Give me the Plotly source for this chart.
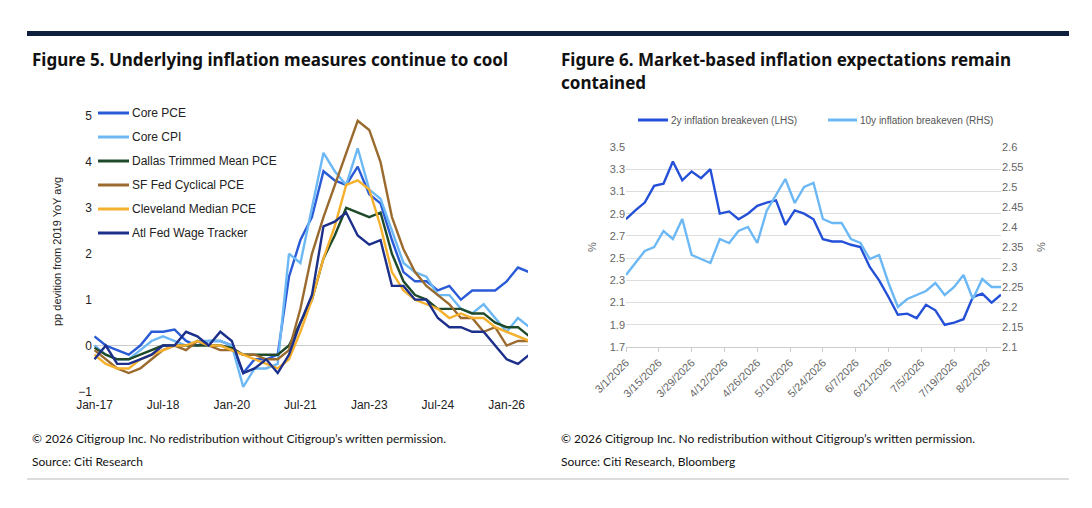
import pandas as pd
import plotly.graph_objects as go

# ---- Figure 5 data (quarterly readings) ----
dates5 = pd.date_range("2017-01-01", periods=39, freq="3MS")
core_pce = [0.2,0.0,-0.1,-0.2,0.0,0.3,0.3,0.35,0.1,0.0,0.1,0.1,0.0,-0.6,-0.3,-0.3,-0.2,1.5,2.3,2.8,3.8,3.6,3.5,3.9,3.3,3.1,2.3,1.6,1.4,1.4,1.2,1.3,1.0,1.2,1.2,1.2,1.4,1.7,1.6]
core_cpi = [0.0,-0.2,-0.3,-0.3,-0.1,0.1,0.2,0.1,0.0,0.1,0.1,0.1,0.0,-0.9,-0.5,-0.5,-0.4,2.0,1.8,3.0,4.2,3.8,3.5,4.3,3.4,3.2,2.5,1.8,1.6,1.5,1.1,1.1,0.8,0.7,0.9,0.6,0.3,0.6,0.4]
dallas = [-0.05,-0.2,-0.3,-0.3,-0.2,-0.1,0.0,0.0,0.0,0.0,0.0,0.0,-0.05,-0.2,-0.2,-0.2,-0.2,0.0,0.5,1.0,1.9,2.4,3.0,2.9,2.8,2.9,2.0,1.4,1.1,1.0,0.8,0.8,0.8,0.7,0.7,0.5,0.4,0.4,0.2]
sf_fed = [-0.1,-0.3,-0.5,-0.6,-0.5,-0.3,-0.1,0.0,-0.1,0.1,0.0,-0.1,-0.1,-0.2,-0.2,-0.3,-0.3,-0.1,0.8,2.0,2.8,3.5,4.2,4.9,4.7,4.0,2.8,2.1,1.6,1.3,1.1,0.9,0.6,0.6,0.3,0.4,0.0,0.1,0.1]
cleveland = [-0.2,-0.4,-0.5,-0.5,-0.3,-0.2,-0.1,0.0,0.0,0.1,0.0,0.0,-0.1,-0.2,-0.3,-0.4,-0.5,-0.3,0.3,1.0,1.9,2.6,3.5,3.6,3.4,2.6,1.6,1.2,1.0,0.9,0.8,0.6,0.7,0.6,0.6,0.4,0.3,0.2,0.1]
atl_wage = [-0.3,0.0,-0.4,-0.4,-0.3,-0.2,0.0,0.0,0.3,0.2,0.0,0.3,0.1,-0.6,-0.5,-0.3,-0.6,-0.2,0.5,1.1,2.6,2.7,2.9,2.4,2.2,2.3,1.3,1.3,1.0,1.0,0.6,0.4,0.4,0.3,0.3,0.0,-0.3,-0.4,-0.2]
ticks5 = ["2017-01-01","2018-07-01","2020-01-01","2021-07-01","2023-01-01","2024-07-01","2026-01-01"]
ticklabels5 = ["Jan-17","Jul-18","Jan-20","Jul-21","Jan-23","Jul-24","Jan-26"]

# ---- Figure 6 data (every 4 days) ----
dates6 = pd.date_range("2026-03-01", periods=41, freq="4D")
be2y = [2.85,2.93,3.0,3.15,3.17,3.37,3.2,3.28,3.22,3.3,2.9,2.92,2.85,2.9,2.97,3.0,3.02,2.8,2.93,2.9,2.85,2.67,2.65,2.65,2.62,2.6,2.42,2.3,2.15,1.99,2.0,1.96,2.08,2.03,1.9,1.92,1.95,2.15,2.18,2.1,2.17]
be10y = [2.28,2.31,2.34,2.35,2.39,2.37,2.42,2.33,2.32,2.31,2.37,2.36,2.39,2.4,2.36,2.44,2.48,2.52,2.46,2.5,2.51,2.42,2.41,2.41,2.37,2.36,2.32,2.33,2.26,2.2,2.22,2.23,2.24,2.26,2.23,2.25,2.28,2.22,2.27,2.25,2.25]

W, H = 1092, 508
DX, DY = 9, 9
def px(x): return (x - DX) / W
def py(y): return 1 - (y - DY) / H

fig = go.Figure()
series5 = [("Core PCE", core_pce, "#2a5bd7"), ("Core CPI", core_cpi, "#6cb8f5"),
           ("Dallas Trimmed Mean PCE", dallas, "#1f4a2a"), ("SF Fed Cyclical PCE", sf_fed, "#9a6a2e"),
           ("Cleveland Median PCE", cleveland, "#f5b02e"), ("Atl Fed Wage Tracker", atl_wage, "#1c2f8a")]
for name, vals, col in series5:
    fig.add_trace(go.Scatter(x=dates5, y=vals, name=name, mode="lines", line=dict(color=col, width=2.4),
                             xaxis="x", yaxis="y", showlegend=False))
series6 = [("2y inflation breakeven (LHS)", be2y, "#2450d8", "y2"),
           ("10y inflation breakeven (RHS)", be10y, "#6cb8f5", "y3")]
for name, vals, col, ya in series6:
    fig.add_trace(go.Scatter(x=dates6, y=vals, name=name, mode="lines", line=dict(color=col, width=2.4),
                             xaxis="x2", yaxis=ya, showlegend=False))

tf = dict(family="Liberation Sans, Arial", size=11, color="#333")
d6 = pd.date_range("2026-03-01", "2026-08-02", freq="14D")
shapes = [
    dict(type="rect", xref="paper", yref="paper", x0=px(28), x1=px(1070), y0=py(37), y1=py(32),
         fillcolor="#0f1f3d", line_width=0),
    dict(type="line", xref="paper", yref="paper", x0=px(28), x1=px(1070), y0=py(480), y1=py(480),
         line=dict(color="#bbb", width=1)),
]
annotations = []
for i, (name, _, col) in enumerate(series5):
    y = 114 + 24 * i
    shapes.append(dict(type="line", xref="paper", yref="paper", x0=px(99), x1=px(130), y0=py(y), y1=py(y),
                       line=dict(color=col, width=3)))
    annotations.append(dict(x=px(131), y=py(y), text=name, font=dict(size=12, color="#222",
                            family="Liberation Sans, Arial")))
for (name, _, col, _), (x0, x1) in zip(series6, [(639, 669), (829, 858)]):
    shapes.append(dict(type="line", xref="paper", yref="paper", x0=px(x0), x1=px(x1), y0=py(121), y1=py(121),
                       line=dict(color=col, width=3)))
    annotations.append(dict(x=px(x1 + 1), y=py(121), text=name, font=dict(size=10, color="#555",
                            family="Liberation Sans, Arial")))

fig.update_layout(
    width=W, height=H, margin=dict(l=0, r=0, t=0, b=0, autoexpand=False),
    paper_bgcolor="white", plot_bgcolor="white", font=tf, showlegend=False,
    xaxis=dict(domain=[px(94), px(529)], type="date", range=["2016-12-20", "2026-06-20"], automargin=False,
               tickvals=ticks5, ticktext=ticklabels5, showgrid=False, showline=False, ticks="",
               tickfont=dict(size=12, color="#222")),
    yaxis=dict(domain=[py(397), py(108)], range=[-1.1, 5.2], dtick=1, showgrid=False, zeroline=True,
               zerolinecolor="#ccc", zerolinewidth=1, tickfont=dict(size=12, color="#222"), automargin=False,
               title=dict(text="pp devition from 2019 YoY avg", font=dict(size=11, color="#222"), standoff=14)),
    xaxis2=dict(domain=[px(627), px(1002)], type="date", range=["2026-03-01", "2026-08-08"], anchor="y2",
                tickvals=d6, ticktext=[f"{d.month}/{d.day}/{d.year}" for d in d6], automargin=False,
                tickangle=-45, showgrid=False, showline=True, linecolor="#ccc", ticks="outside",
                tickcolor="#ccc", ticklen=4, tickfont=dict(size=11, color="#666")),
    yaxis2=dict(domain=[py(348), py(148)], range=[1.7, 3.5], dtick=0.2, tick0=1.7, anchor="x2",
                showgrid=True, gridcolor="#ddd", zeroline=False, tickfont=dict(size=11, color="#666"),
                automargin=False, title=dict(text="%", font=dict(size=11, color="#666"), standoff=10)),
    yaxis3=dict(range=[2.1, 2.6], dtick=0.05, tick0=2.1, overlaying="y2", side="right", anchor="x2",
                showgrid=False, zeroline=False, tickfont=dict(size=11, color="#666"), automargin=False,
                title=dict(text="%", font=dict(size=11, color="#666"), standoff=14)),
)
hf = dict(family="Noto Sans, Lato", size=17, color="#111")
ff = dict(family="Lato, Liberation Sans", size=12, color="#111")
txt = [
    (31, 60, "<b>Figure 5. Underlying inflation measures continue to cool</b>", hf),
    (560, 60, "<b>Figure 6. Market-based inflation expectations remain</b>", hf),
    (560, 84, "<b>contained</b>", hf),
    (31, 439, "© 2026 Citigroup Inc. No redistribution without Citigroup’s written permission.", ff),
    (31, 462, "Source: Citi Research", ff),
    (560, 439, "© 2026 Citigroup Inc. No redistribution without Citigroup’s written permission.", ff),
    (560, 462, "Source: Citi Research, Bloomberg", ff),
]
for x, y, t, f in txt:
    annotations.append(dict(x=px(x), y=py(y), text=t, font=f))
for a in annotations:
    a.update(xref="paper", yref="paper", showarrow=False, xanchor="left", yanchor="middle")
fig.update_layout(shapes=shapes, annotations=annotations)
fig.write_html("out.html")
